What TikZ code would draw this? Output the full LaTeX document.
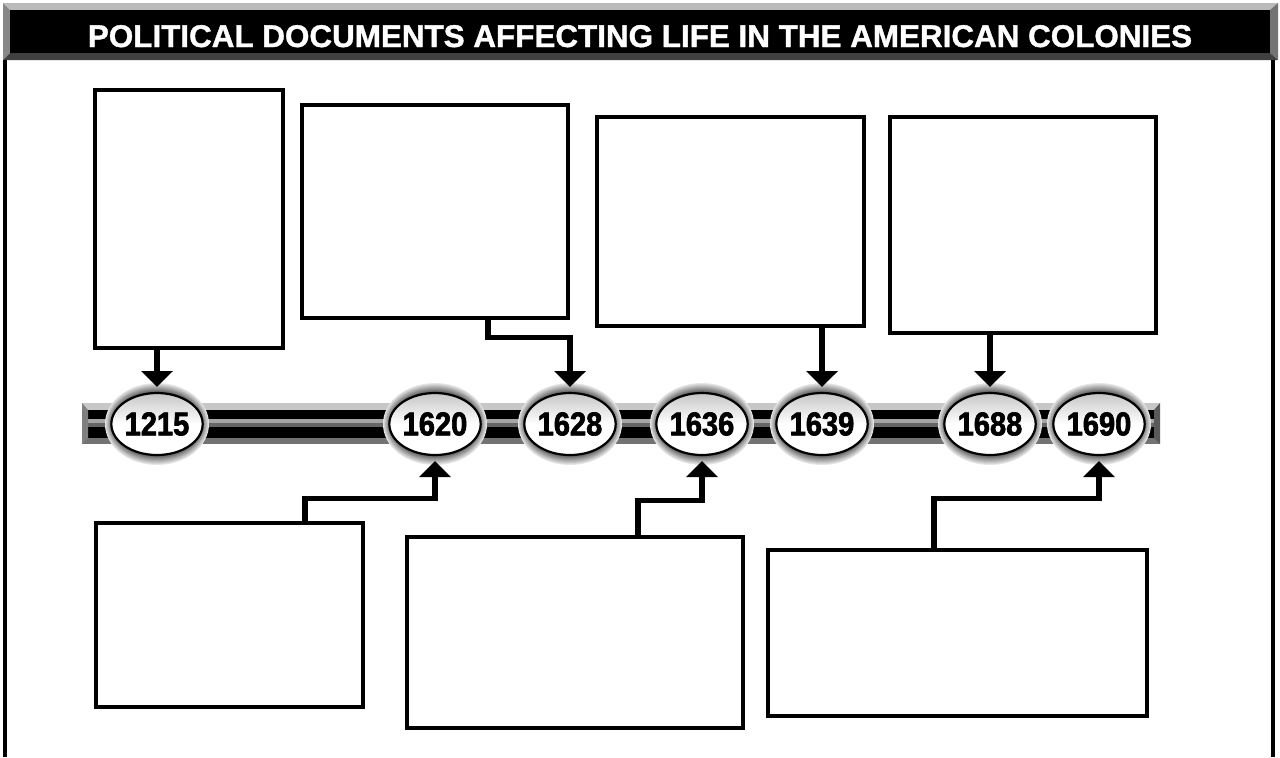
\documentclass[tikz,border=0pt]{standalone}
\usepackage{fontspec}
\newfontfamily\headfont[FakeBold=1.2]{Liberation Sans Bold}
\newfontfamily\yearfont[FakeStretch=0.88, FakeBold=2]{Liberation Sans Bold}
\usetikzlibrary{arrows.meta,positioning,calc,shapes.geometric}
\tikzset{
  docbox/.style={draw, line width=1.6pt, fill=white, inner sep=0pt},
  yearoval/.style={ellipse, draw=black, line width=1.1pt, top color=gray!45,
                   bottom color=white, middle color=white, inner sep=0pt, outer sep=3pt,
                   minimum width=44pt, minimum height=31pt,
                   font=\yearfont\fontsize{16.5}{16.5}\selectfont},
  link/.style={line width=2.6pt, -{Triangle[width=15.5pt,length=8pt]}},
  frameline/.style={line width=1.6pt},
}

\begin{document}
\begin{tikzpicture}[x=0.5pt, y=-0.5pt]
\useasboundingbox (0,0) rectangle (1280,757);
% Title bar
\fill[black!27] (3,3) -- (1278,3) -- (1270,10) -- (10,10) -- cycle;
\fill[black!47] (3,3) -- (10,10) -- (10,53) -- (3,60) -- cycle;
\fill[black!55] (1278,3) -- (1278,60) -- (1270,53) -- (1270,10) -- cycle;
\fill[black!75] (3,60) -- (10,53) -- (1270,53) -- (1278,60) -- cycle;
\fill[black] (10,10) rectangle (1270,53);
\node[anchor=base, text=white, font=\headfont\fontsize{15.7}{15.7}\selectfont] (title) at (640,47)
  {POLITICAL DOCUMENTS AFFECTING LIFE IN THE AMERICAN COLONIES};
% Frame
\draw[frameline] (5,60) -- (5,757);
\draw[frameline] (1273,60) -- (1273,757);
% Timeline bar
\fill[black!22] (82,403) rectangle (1160,410);
\fill[black] (82,410) rectangle (1160,419);
\fill[black!35] (82,419) rectangle (1160,423);
\fill[black!60] (82,423) rectangle (1160,427);
\fill[black] (82,427) rectangle (1160,438);
\fill[black!55] (82,438) rectangle (1160,444);
\fill[black!50] (82,403) -- (88,410) -- (88,438) -- (82,444) -- cycle;
\fill[black!65] (1160,403) -- (1154,410) -- (1154,438) -- (1160,444) -- cycle;
% Year ovals
\foreach \yr/\x in {1215/157, 1620/435, 1628/570, 1636/702, 1639/822, 1688/990, 1690/1099}{
  \foreach \k in {10,...,1}{
    \pgfmathtruncatemacro\c{10+(10-\k)*6}
    \fill[black!\c] (\x,424) ellipse [x radius=22pt+0.4pt*\k, y radius=15.5pt+0.5pt*\k];
  }
  \node[yearoval] (y\yr) at (\x,424) {\yr};
}
% Document boxes
\foreach \n/\x/\y/\w/\h in {b1/189/219/188/258, b2/435/211.5/266/213, b3/730.5/221.5/267/209,
  b4/1023/225/266/216, b5/229.5/615/267/184, b6/575/632.5/336/191, b7/957.5/633/379/166}{
  \node[docbox, minimum width=\w*0.5pt, minimum height=\h*0.5pt] (\n) at (\x,\y) {};
}
% Connectors
\draw[link] (b1.south -| y1215) -- (y1215);
\draw[link] ($(b2.south)+(53,0)$) -- ++(0,18) -| (y1628);
\draw[link] (b3.south -| y1639) -- (y1639);
\draw[link] (b4.south -| y1688) -- (y1688);
\draw[link] ($(b5.north)+(75.5,0)$) -- ++(0,-23) -| (y1620);
\draw[link] ($(b6.north)+(63,0)$) -- ++(0,-35) -| (y1636);
\draw[link] ($(b7.north)+(-23.5,0)$) -- ++(0,-50) -| (y1690);
\end{tikzpicture}
\end{document}
